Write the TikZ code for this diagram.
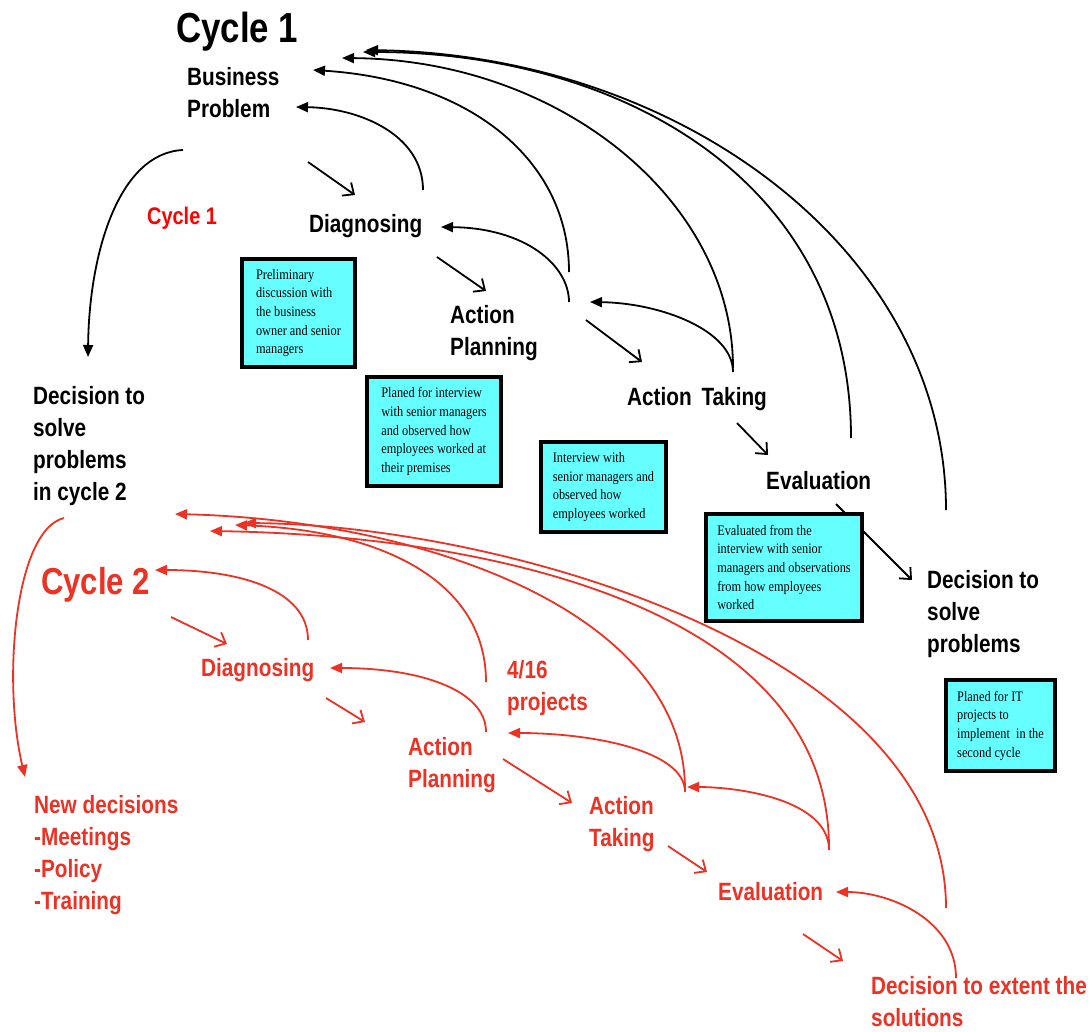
\documentclass[tikz,border=0pt]{standalone}
\usepackage{fontspec}
\setmainfont{Liberation Sans}[FakeStretch=0.83]
\newfontfamily\boxfont{Liberation Serif}[FakeStretch=0.85]
\usetikzlibrary{arrows.meta}
\definecolor{boxcyan}{RGB}{102,255,255}
\definecolor{cred}{RGB}{236,50,36}
\definecolor{purered}{RGB}{255,0,0}
\tikzset{
  lbl/.style={anchor=west, inner sep=0pt, align=left, font=\fontsize{25}{32}\selectfont\bfseries},
  cbox/.style={draw=black, line width=3.8pt, fill=boxcyan, inner sep=0pt, align=left,
     font=\boxfont\fontsize{14.5}{18.7}\selectfont},
  back/.style={line width=1.8pt, -{Triangle[length=12pt,width=10pt]}},
  fwd/.style={line width=1.8pt, -{Straight Barb[length=9pt,width=16pt]}},
}
\begin{document}
\begin{tikzpicture}[x=1pt,y=-1pt]
\fill[white] (0,0) rectangle (1091,1031);
\useasboundingbox (0,0) rectangle (1091,1031);

% ---------- labels, cycle 1 ----------
\node[lbl, font=\fontsize{42}{48}\selectfont\bfseries] (cyc1) at (176,32) {Cycle 1};
\node[lbl] (bp) at (187,93) {Business\\Problem};
\node[lbl, font=\fontsize{24}{30}\selectfont\bfseries, text=purered] (cyc1r) at (147,218) {Cycle 1};
\node[lbl] (diag) at (309,226) {Diagnosing};
\node[lbl] (ap) at (450,333) {Action\\Planning};
\node[lbl] (at) at (627,399) {Action\hspace{4pt} Taking};
\node[lbl] (ev) at (766,481) {Evaluation};
\node[lbl] (dec) at (927,614) {Decision to\\solve\\problems};
\node[lbl] (dec2) at (33,446) {Decision to\\solve\\problems\\in cycle 2};

% ---------- labels, cycle 2 ----------
\node[lbl, font=\fontsize{37.5}{44}\selectfont\bfseries, text=cred] (cyc2) at (41,585) {Cycle 2};
\node[lbl, text=cred] (rdiag) at (201,670) {Diagnosing};
\node[lbl, text=cred] (proj) at (507,688) {4/16\\projects};
\node[lbl, text=cred] (rap) at (408,765) {Action\\Planning};
\node[lbl, text=cred] (rat) at (589,824) {Action\\Taking};
\node[lbl, text=cred] (rev) at (718,892) {Evaluation};
\node[lbl, text=cred] (rdec) at (871,1002) {Decision to extent the\\solutions};
\node[lbl, text=cred] (newd) at (34,855) {New decisions\\-Meetings\\-Policy\\-Training};

% ---------- connector end points ----------
\coordinate (k0a) at (183,150);  \coordinate (k0b) at (88,357);
\coordinate (k1a) at (423,190);  \coordinate (k1b) at (296,107);
\coordinate (k2a) at (569,272);  \coordinate (k2b) at (313,70);
\coordinate (k3a) at (569,302);  \coordinate (k3b) at (441,227);
\coordinate (k4a) at (733,372);  \coordinate (k4b) at (590,302);
\coordinate (k5a) at (733,368);  \coordinate (k5b) at (342,58);
\coordinate (k6a) at (851,438);  \coordinate (k6b) at (363,52);
\coordinate (k7a) at (946,510);  \coordinate (k7b) at (366,50);
\coordinate (s1a) at (308,162);  \coordinate (s1b) at (355,195);
\coordinate (s2a) at (437,257);  \coordinate (s2b) at (486,291);
\coordinate (s3a) at (586,320);  \coordinate (s3b) at (642,362);
\coordinate (s4a) at (737,423);  \coordinate (s4b) at (768,455);
\coordinate (s5a) at (836,504);  \coordinate (s5b) at (912,580);

\coordinate (r0a) at (64,518);   \coordinate (r0b) at (25,777);
\coordinate (r1a) at (308,640);  \coordinate (r1b) at (155,570);
\coordinate (r2a) at (486,682);  \coordinate (r2b) at (235,525);
\coordinate (r3a) at (486,732);  \coordinate (r3b) at (330,668);
\coordinate (r4a) at (685,792);  \coordinate (r4b) at (508,733);
\coordinate (r5a) at (685,790);  \coordinate (r5b) at (175,514);
\coordinate (r6a) at (829,850);  \coordinate (r6b) at (687,787);
\coordinate (r7a) at (829,848);  \coordinate (r7b) at (210,531);
\coordinate (r8a) at (946,908);  \coordinate (r8b) at (244,523);
\coordinate (r9a) at (956,978);  \coordinate (r9b) at (836,892);
\coordinate (t1a) at (171,617);  \coordinate (t1b) at (227,644);
\coordinate (t2a) at (326,698);  \coordinate (t2b) at (365,722);
\coordinate (t3a) at (503,759);  \coordinate (t3b) at (572,803);
\coordinate (t4a) at (668,846);  \coordinate (t4b) at (707,872);
\coordinate (t5a) at (803,934);  \coordinate (t5b) at (843,961);

% ---------- black connectors ----------
\draw[back] (k0a) .. controls (118,153) and (89,255) .. (k0b);
\draw[back] (k1a) .. controls (423,135) and (360,108) .. (k1b);
\draw[back] (k2a) .. controls (569,160) and (470,80) .. (k2b);
\draw[back] (k3a) .. controls (569,265) and (525,228) .. (k3b);
\draw[back] (k4a) .. controls (733,330) and (660,303) .. (k4b);
\draw[back] (k5a) .. controls (733,200) and (560,60) .. (k5b);
\draw[back] (k6a) .. controls (851,180) and (620,52) .. (k6b);
\draw[back] (k7a) .. controls (946,250) and (680,55) .. (k7b);
\draw[fwd] (s1a) -- (s1b);
\draw[fwd] (s2a) -- (s2b);
\draw[fwd] (s3a) -- (s3b);
\draw[fwd] (s4a) -- (s4b);
\draw[fwd] (s5a) -- (s5b);

% ---------- red connectors ----------
\begin{scope}[draw=cred, fill=cred, color=cred]
\draw[back] (r0a) .. controls (15,530) and (2,680) .. (r0b);
\draw[back] (r1a) .. controls (308,590) and (240,570) .. (r1b);
\draw[back] (r2a) .. controls (486,580) and (380,530) .. (r2b);
\draw[back] (r3a) .. controls (486,690) and (420,668) .. (r3b);
\draw[back] (r4a) .. controls (685,750) and (590,733) .. (r4b);
\draw[back] (r5a) .. controls (685,610) and (420,520) .. (r5b);
\draw[back] (r6a) .. controls (829,800) and (740,787) .. (r6b);
\draw[back] (r7a) .. controls (829,600) and (470,535) .. (r7b);
\draw[back] (r8a) .. controls (946,650) and (500,525) .. (r8b);
\draw[back] (r9a) .. controls (956,920) and (890,892) .. (r9b);
\draw[fwd] (t1a) -- (t1b);
\draw[fwd] (t2a) -- (t2b);
\draw[fwd] (t3a) -- (t3b);
\draw[fwd] (t4a) -- (t4b);
\draw[fwd] (t5a) -- (t5b);
\end{scope}

% ---------- cyan boxes ----------
\node[cbox, minimum width=113.5pt, minimum height=108.5pt] (b1) at (298.5,313)
  {Preliminary\\discussion with\\the business\\owner and senior\\managers};
\node[cbox, minimum width=134.5pt, minimum height=109.5pt] (b2) at (434,431.5)
  {Planed for interview\\with senior managers\\and observed how\\employees worked at\\their premises};
\node[cbox, minimum width=125.5pt, minimum height=90.5pt] (b3) at (603.5,487)
  {Interview with\\senior managers and\\observed how\\employees worked};
\node[cbox, minimum width=156.5pt, minimum height=107.5pt] (b4) at (784,567.5)
  {Evaluated from the\\interview with senior\\managers and observations\\from how employees\\worked};
\node[cbox, minimum width=109.5pt, minimum height=91.5pt] (b5) at (1000.5,725.5)
  {Planed for IT\\projects to\\implement~ in the\\second cycle};
\end{tikzpicture}
\end{document}
